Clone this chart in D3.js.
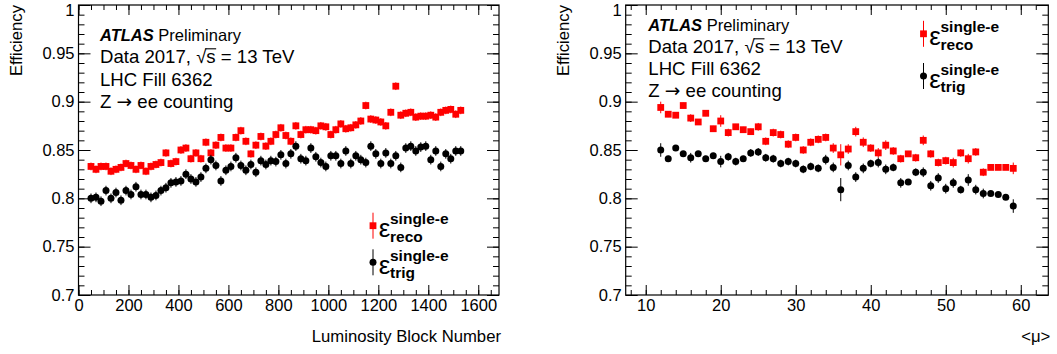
<!DOCTYPE html>
<html>
<head>
<meta charset="utf-8">
<script src="https://cdn.jsdelivr.net/npm/d3@7"></script>
<style>
  body { margin: 0; background: #fff; }
  svg { display: block; font-family: "Liberation Sans", Arial, Helvetica, sans-serif; }
</style>
</head>
<body>
<svg id="chart" width="1057" height="354"></svg>
<script>
// ---- data ----
const lumiBlocks = [50, 70, 90, 110, 130, 150, 170, 190, 210, 230, 250, 270, 290, 310, 330,
  350, 370, 390, 410, 430, 450, 470, 490, 510, 530, 550, 570, 590, 610, 630, 650, 670, 690,
  710, 730, 750, 770, 790, 810, 830, 850, 870, 890, 910, 930, 950, 970, 990, 1010, 1030,
  1050, 1070, 1090, 1110, 1130, 1150, 1170, 1190, 1210, 1230, 1250, 1270, 1290, 1310, 1330,
  1350, 1370, 1390, 1410, 1430, 1450, 1470, 1490, 1510, 1530];

const lbReco = [0.833, 0.830, 0.833, 0.833, 0.828, 0.830, 0.832, 0.836, 0.834, 0.830,
  0.834, 0.828, 0.833, 0.835, 0.837, 0.847, 0.836, 0.838, 0.850, 0.852,
  0.841, 0.847, 0.841, 0.858, 0.847, 0.855, 0.863, 0.852, 0.852, 0.863,
  0.870, 0.859, 0.846, 0.855, 0.864, 0.854, 0.859, 0.866, 0.873, 0.865,
  0.859, 0.875, 0.866, 0.871, 0.871, 0.870, 0.875, 0.874, 0.866, 0.871,
  0.877, 0.872, 0.873, 0.876, 0.880, 0.896, 0.882, 0.881, 0.879, 0.875,
  0.889, 0.916, 0.886, 0.888, 0.889, 0.884, 0.885, 0.885, 0.886, 0.884,
  0.889, 0.891, 0.892, 0.887, 0.891];

const lbTrig = [0.800, 0.801, 0.797, 0.808, 0.800, 0.806, 0.798, 0.808, 0.804, 0.812,
  0.804, 0.804, 0.801, 0.803, 0.808, 0.811, 0.816, 0.817, 0.818, 0.825,
  0.820, 0.817, 0.822, 0.831, 0.840, 0.834, 0.818, 0.829, 0.833, 0.842,
  0.834, 0.829, 0.835, 0.827, 0.839, 0.835, 0.839, 0.838, 0.845, 0.836,
  0.846, 0.854, 0.841, 0.839, 0.852, 0.843, 0.837, 0.833, 0.844, 0.844,
  0.836, 0.849, 0.836, 0.844, 0.840, 0.837, 0.854, 0.846, 0.836, 0.847,
  0.836, 0.844, 0.832, 0.852, 0.854, 0.849, 0.853, 0.854, 0.840, 0.849,
  0.833, 0.846, 0.841, 0.849, 0.849];

const lbRecoErr = 0.004;
const lbTrigErr = 0.005;

const muValues = [12, 13, 14, 15, 16, 17, 18, 19, 20, 21, 22, 23, 24, 25, 26, 27, 28, 29,
  30, 31, 32, 33, 34, 35, 36, 37, 38, 39, 40, 41, 42, 43, 44, 45, 46, 47, 48, 49, 50, 51,
  52, 53, 54, 55, 56, 57, 58, 59];

const muReco = [0.894, 0.887, 0.886, 0.896, 0.883, 0.879, 0.888, 0.872, 0.880, 0.868,
  0.874, 0.871, 0.869, 0.874, 0.859, 0.868, 0.866, 0.856, 0.863, 0.850,
  0.858, 0.861, 0.863, 0.852, 0.845, 0.851, 0.869, 0.858, 0.852, 0.847,
  0.855, 0.849, 0.841, 0.846, 0.842, 0.860, 0.846, 0.837, 0.839, 0.837,
  0.847, 0.841, 0.848, 0.827, 0.832, 0.832, 0.832, 0.831];

const muTrig = [0.850, 0.841, 0.852, 0.846, 0.842, 0.846, 0.841, 0.844, 0.838, 0.843,
  0.838, 0.841, 0.847, 0.848, 0.842, 0.841, 0.836, 0.838, 0.836, 0.830,
  0.833, 0.831, 0.840, 0.832, 0.809, 0.834, 0.822, 0.831, 0.836, 0.837,
  0.830, 0.832, 0.816, 0.817, 0.827, 0.827, 0.813, 0.821, 0.810, 0.816,
  0.809, 0.819, 0.809, 0.805, 0.805, 0.804, 0.801, 0.792];

const muRecoErr = [0.006, 0.003, 0.003, 0.003, 0.004, 0.003, 0.003, 0.003, 0.006, 0.004,
  0.003, 0.003, 0.003, 0.004, 0.004, 0.004, 0.004, 0.004, 0.004, 0.004,
  0.004, 0.004, 0.004, 0.005, 0.011, 0.005, 0.005, 0.005, 0.004, 0.005,
  0.005, 0.004, 0.004, 0.003, 0.004, 0.005, 0.004, 0.004, 0.004, 0.005,
  0.004, 0.005, 0.004, 0.004, 0.002, 0.002, 0.002, 0.006];

const muTrigErr = [0.007, 0.003, 0.003, 0.003, 0.005, 0.003, 0.003, 0.003, 0.006, 0.004,
  0.004, 0.003, 0.004, 0.004, 0.004, 0.004, 0.004, 0.004, 0.004, 0.004,
  0.004, 0.004, 0.005, 0.005, 0.012, 0.005, 0.005, 0.005, 0.004, 0.005,
  0.005, 0.004, 0.005, 0.003, 0.004, 0.005, 0.005, 0.005, 0.005, 0.005,
  0.004, 0.006, 0.005, 0.005, 0.002, 0.002, 0.002, 0.007];

const effTicks = [0.7, 0.75, 0.8, 0.85, 0.9, 0.95, 1];
const effTickLabels = ["0.7", "0.75", "0.8", "0.85", "0.9", "0.95", "1"];
const lbTicks = [0, 200, 400, 600, 800, 1000, 1200, 1400, 1600];
const muTicks = [10, 20, 30, 40, 50, 60];
const legendSubs = ["reco", "trig"];

// ---- layout ----
const svg = d3.select("#chart");
const plotTop = 5, plotBottom = 295;
const fontStack = "'Liberation Sans', Arial, Helvetica, sans-serif";
const RED = "#ff0000";

function drawPanel(p) {
  const g = svg.append("g");
  const x = d3.scaleLinear().domain(p.xDomain).range([p.x0, p.x1]);
  const y = d3.scaleLinear().domain([0.7, 1]).range([plotBottom, plotTop]);

  const yMinor = d3.range(0.7, 1.0001, 0.01);
  const xMinor = d3.range(Math.ceil(p.xDomain[0] / p.xMinorStep) * p.xMinorStep, p.xDomain[1], p.xMinorStep);

  const styleAxis = sel => {
    sel.select(".domain").remove();
    sel.attr("font-family", fontStack).attr("font-size", 16.5);
    sel.selectAll("line").attr("stroke", "#000").attr("stroke-width", 1);
  };

  // left axis with labels
  const yAx = g.append("g").attr("transform", `translate(${p.x0},0)`)
    .call(d3.axisLeft(y).tickValues(effTicks).tickFormat((d, i) => effTickLabels[i])
      .tickSizeInner(-12).tickSizeOuter(0).tickPadding(4))
    .call(styleAxis);
  // the "1" at the very top sits a little lower so it stays inside the page
  yAx.selectAll(".tick text").filter(d => d === 1).attr("dy", "0.62em");
  g.append("g").attr("transform", `translate(${p.x0},0)`)
    .call(d3.axisLeft(y).tickValues(yMinor).tickFormat("").tickSizeInner(-6).tickSizeOuter(0))
    .call(styleAxis);
  // right mirror
  g.append("g").attr("transform", `translate(${p.x1},0)`)
    .call(d3.axisRight(y).tickValues(effTicks).tickFormat("").tickSizeInner(-12).tickSizeOuter(0))
    .call(styleAxis);
  g.append("g").attr("transform", `translate(${p.x1},0)`)
    .call(d3.axisRight(y).tickValues(yMinor).tickFormat("").tickSizeInner(-6).tickSizeOuter(0))
    .call(styleAxis);
  // bottom axis with labels
  g.append("g").attr("transform", `translate(0,${plotBottom})`)
    .call(d3.axisBottom(x).tickValues(p.xTicks).tickFormat(d3.format("d"))
      .tickSizeInner(-10).tickSizeOuter(0).tickPadding(4))
    .call(styleAxis);
  g.append("g").attr("transform", `translate(0,${plotBottom})`)
    .call(d3.axisBottom(x).tickValues(xMinor).tickFormat("").tickSizeInner(-5).tickSizeOuter(0))
    .call(styleAxis);
  // top mirror
  g.append("g").attr("transform", `translate(0,${plotTop})`)
    .call(d3.axisTop(x).tickValues(p.xTicks).tickFormat("").tickSizeInner(-10).tickSizeOuter(0))
    .call(styleAxis);
  g.append("g").attr("transform", `translate(0,${plotTop})`)
    .call(d3.axisTop(x).tickValues(xMinor).tickFormat("").tickSizeInner(-5).tickSizeOuter(0))
    .call(styleAxis);

  // frame
  g.append("rect")
    .attr("x", p.x0).attr("y", plotTop)
    .attr("width", p.x1 - p.x0).attr("height", plotBottom - plotTop)
    .attr("fill", "none").attr("stroke", "#000").attr("stroke-width", 1.2);

  // axis titles
  g.append("text")
    .attr("transform", `translate(${p.yTitleX},${plotTop}) rotate(-90)`)
    .attr("text-anchor", "end").attr("font-size", 16.7)
    .text("Efficiency");
  g.append("text")
    .attr("x", p.x1 + 2).attr("y", 342)
    .attr("text-anchor", "end").attr("font-size", 16.7)
    .text(p.xTitle);

  // data: error bars then markers
  const series = [
    {vals: p.reco, err: p.recoErr, color: RED, shape: "square"},
    {vals: p.trig, err: p.trigErr, color: "#000", shape: "circle"}
  ];
  series.forEach(s => {
    const errOf = i => Array.isArray(s.err) ? s.err[i] : s.err;
    const pts = p.xs.map((xv, i) => ({x: xv, v: s.vals[i], e: errOf(i)}));
    g.append("g").selectAll("line").data(pts).join("line")
      .attr("x1", d => x(d.x)).attr("x2", d => x(d.x))
      .attr("y1", d => y(d.v - d.e)).attr("y2", d => y(d.v + d.e))
      .attr("stroke", s.color).attr("stroke-width", 1);
    if (s.shape === "square") {
      g.append("g").selectAll("rect").data(pts).join("rect")
        .attr("x", d => x(d.x) - 3.4).attr("y", d => y(d.v) - 3.4)
        .attr("width", 6.8).attr("height", 6.8).attr("fill", s.color);
    } else {
      g.append("g").selectAll("circle").data(pts).join("circle")
        .attr("cx", d => x(d.x)).attr("cy", d => y(d.v))
        .attr("r", 3.5).attr("fill", s.color);
    }
  });

  // ATLAS label block
  const tx = p.textX;
  const atl = g.append("text").attr("x", tx).attr("y", p.textY[0]).attr("font-size", 16.5);
  atl.append("tspan").attr("font-weight", "bold").attr("font-style", "italic").text("ATLAS");
  atl.append("tspan").text(" Preliminary");

  const l1 = g.append("text").attr("x", tx).attr("y", p.textY[1]).attr("font-size", 18.6);
  l1.append("tspan").text("Data 2017, ");
  l1.append("tspan").text("√");
  l1.append("tspan").text("s");
  l1.append("tspan").text(" = 13 TeV");
  // bar over the s of the radical
  const n = l1.node();
  const a = n.getSubStringLength(0, 12);
  const b = n.getSubStringLength(0, 13);
  g.append("line")
    .attr("x1", tx + a - 1).attr("x2", tx + b + 0.5)
    .attr("y1", p.textY[1] - 14.2).attr("y2", p.textY[1] - 14.2)
    .attr("stroke", "#000").attr("stroke-width", 1.1);

  g.append("text").attr("x", tx).attr("y", p.textY[2]).attr("font-size", 18.6).text("LHC Fill 6362");
  const zl = g.append("text").attr("x", tx).attr("y", p.textY[3]).attr("font-size", 18.6);
  zl.append("tspan").text("Z ");
  zl.append("tspan").attr("font-family", "'DejaVu Sans', sans-serif").text("→");
  zl.append("tspan").text(" ee counting");

  // legend
  series.forEach((s, k) => {
    const lx = p.legendX, ly = p.legendY[k];
    g.append("line").attr("x1", lx).attr("x2", lx).attr("y1", ly - 13).attr("y2", ly + 13)
      .attr("stroke", s.color).attr("stroke-width", 1);
    if (s.shape === "square") {
      g.append("rect").attr("x", lx - 3.4).attr("y", ly - 3.4).attr("width", 6.8).attr("height", 6.8).attr("fill", s.color);
    } else {
      g.append("circle").attr("cx", lx).attr("cy", ly).attr("r", 3.5).attr("fill", s.color);
    }
    g.append("text").attr("x", lx + 5.8).attr("y", ly + 11.5).attr("font-size", 26).text("ε");
    g.append("text").attr("x", lx + 17).attr("y", ly - 1.5).attr("font-size", 15.5)
      .attr("font-weight", "bold").text("single-e");
    g.append("text").attr("x", lx + 17).attr("y", ly + 16).attr("font-size", 15.5)
      .attr("font-weight", "bold").text(legendSubs[k]);
  });
}

drawPanel({
  x0: 78.5, x1: 499, xDomain: [0, 1683], xTicks: lbTicks, xMinorStep: 50,
  xTitle: "Luminosity Block Number", yTitleX: 22,
  xs: lumiBlocks, reco: lbReco, trig: lbTrig, recoErr: lbRecoErr, trigErr: lbTrigErr,
  textX: 100, textY: [41, 63, 86, 108],
  legendX: 373, legendY: [225.7, 262.3]
});

drawPanel({
  x0: 625.7, x1: 1048.3, xDomain: [7.33, 63.67], xTicks: muTicks, xMinorStep: 2,
  xTitle: "<μ>", yTitleX: 569,
  xs: muValues, reco: muReco, trig: muTrig, recoErr: muRecoErr, trigErr: muTrigErr,
  textX: 648.3, textY: [31, 53, 75, 97],
  legendX: 923.5, legendY: [33.8, 76]
});
</script>
</body>
</html>
